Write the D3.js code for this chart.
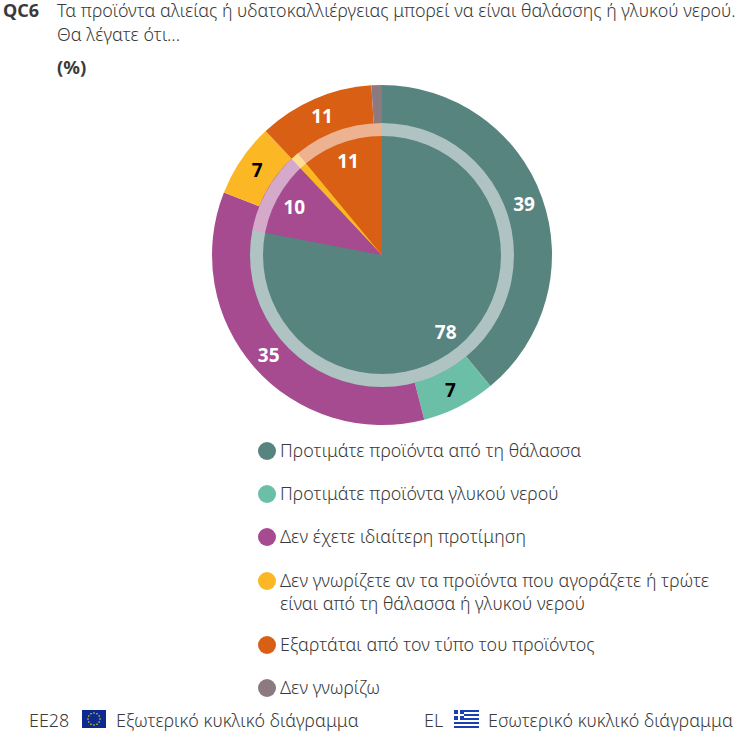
<!DOCTYPE html>
<html>
<head>
<meta charset="utf-8">
<script src="https://d3js.org/d3.v7.min.js"></script>
<style>
  html, body { margin: 0; padding: 0; background: #fff; }
  text { font-family: "Noto Sans", sans-serif; fill: #3a3a3a; }
  .thin { font-weight: 300; font-size: 17.9px; }
  .val { font-weight: 700; font-size: 19px; text-anchor: middle; dominant-baseline: central; }
</style>
</head>
<body>
<div class="chart"></div>
<script>
var categories = [
  ["Προτιμάτε προϊόντα από τη θάλασσα"],
  ["Προτιμάτε προϊόντα γλυκού νερού"],
  ["Δεν έχετε ιδιαίτερη προτίμηση"],
  ["Δεν γνωρίζετε αν τα προϊόντα που αγοράζετε ή τρώτε", "είναι από τη θάλασσα ή γλυκού νερού"],
  ["Εξαρτάται από τον τύπο του προϊόντος"],
  ["Δεν γνωρίζω"]
];
var colors = ["#58847f", "#6bbfa6", "#a64b90", "#fbb824", "#d95f15", "#8c7a80"];
var labelColors = ["#fff", "#000", "#fff", "#000", "#fff", "#fff"];
var outerValues = [39, 7, 35, 7, 11, 1];   // EE28
var innerValues = [78, 0, 10, 1, 11, 0];   // EL
var minLabel = 5;

var width = 755, height = 732;
var cx = 382, cy = 255;

var svg = d3.select(".chart").append("svg")
  .attr("width", width)
  .attr("height", height)
  .style("display", "block");

// title
svg.append("text").attr("x", 3).attr("y", 17).attr("font-size", 18).attr("font-weight", 700).text("QC6");
svg.append("text").attr("class", "thin").attr("x", 57).attr("y", 17)
  .text("Τα προϊόντα αλιείας ή υδατοκαλλιέργειας μπορεί να είναι θαλάσσης ή γλυκού νερού.");
svg.append("text").attr("class", "thin").attr("x", 57).attr("y", 41).text("Θα λέγατε ότι...");
svg.append("text").attr("x", 57).attr("y", 74).attr("font-size", 18.5).attr("font-weight", 700).text("(%)");

// pies
var pie = d3.pie().sort(null).value(function(d){ return d; });
var outerArc = d3.arc().innerRadius(0).outerRadius(170);
var innerArc = d3.arc().innerRadius(0).outerRadius(132);
var outerLabelArc = d3.arc().innerRadius(151).outerRadius(151);
var innerLabelArc = d3.arc().innerRadius(100).outerRadius(100);

var plot = svg.append("g").attr("transform", "translate(" + cx + "," + cy + ")");

plot.append("g").selectAll("path")
  .data(pie(outerValues))
  .enter()
  .append("path")
  .attr("d", outerArc)
  .attr("fill", function(d, i){ return colors[i]; });

plot.append("g").selectAll("path")
  .data(pie(innerValues))
  .enter()
  .append("path")
  .attr("d", innerArc)
  .attr("fill", function(d, i){ return colors[i]; });

// pale ring on the edge of the inner pie
plot.append("path")
  .attr("d", d3.arc().innerRadius(119).outerRadius(132).startAngle(0).endAngle(2 * Math.PI)())
  .attr("fill", "#fff")
  .attr("fill-opacity", 0.52);

function drawLabels(values, arc) {
  plot.append("g").selectAll("text")
    .data(pie(values).filter(function(d){ return d.value >= minLabel; }))
    .enter()
    .append("text")
    .attr("class", "val")
    .attr("transform", function(d){ return "translate(" + arc.centroid(d) + ")"; })
    .style("fill", function(d){ return labelColors[d.index]; })
    .text(function(d){ return d.value; });
}
drawLabels(outerValues, outerLabelArc);
drawLabels(innerValues, innerLabelArc);

// legend
var legendRows = [451, 494, 537, 581, 645, 688];
var legend = svg.append("g").selectAll("g")
  .data(categories)
  .enter()
  .append("g")
  .attr("transform", function(d, i){ return "translate(267," + legendRows[i] + ")"; });

legend.append("circle").attr("r", 9).attr("fill", function(d, i){ return colors[i]; });
legend.selectAll("text")
  .data(function(d){ return d; })
  .enter()
  .append("text")
  .attr("class", "thin")
  .attr("x", 13)
  .attr("y", function(d, i){ return 6 + i * 23; })
  .text(function(d){ return d; });

// footer
svg.append("text").attr("class", "thin").attr("x", 29).attr("y", 727).text("EE28");
svg.append("text").attr("class", "thin").attr("x", 116).attr("y", 727).text("Εξωτερικό κυκλικό διάγραμμα");
svg.append("text").attr("class", "thin").attr("x", 424).attr("y", 727).text("EL");
svg.append("text").attr("class", "thin").attr("x", 488).attr("y", 727).text("Εσωτερικό κυκλικό διάγραμμα");

// EU flag
var eu = svg.append("g").attr("transform", "translate(82,710)");
eu.append("rect").attr("width", 24).attr("height", 18).attr("fill", "#0d2a8f");
eu.selectAll("circle")
  .data(d3.range(12))
  .enter()
  .append("circle")
  .attr("cx", function(d){ return 12 + 6 * Math.cos(d * Math.PI / 6); })
  .attr("cy", function(d){ return 9 + 6 * Math.sin(d * Math.PI / 6); })
  .attr("r", 0.8)
  .attr("fill", "#f5d90a");

// Greek flag
var gr = svg.append("g").attr("transform", "translate(454,710)");
gr.append("rect").attr("width", 25).attr("height", 18).attr("fill", "#fff");
gr.selectAll("rect.stripe")
  .data(d3.range(0, 9, 2))
  .enter()
  .append("rect")
  .attr("class", "stripe")
  .attr("y", function(d){ return d * 2; })
  .attr("width", 25)
  .attr("height", 2)
  .attr("fill", "#1a3fb5");
gr.append("rect").attr("width", 10).attr("height", 10).attr("fill", "#1a3fb5");
gr.append("rect").attr("x", 4).attr("width", 2).attr("height", 10).attr("fill", "#fff");
gr.append("rect").attr("y", 4).attr("width", 10).attr("height", 2).attr("fill", "#fff");
</script>
</body>
</html>
